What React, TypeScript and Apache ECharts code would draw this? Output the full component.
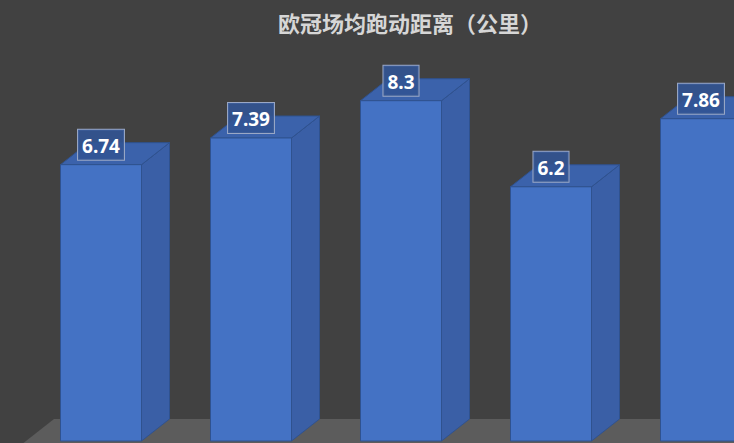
import React, { useEffect, useRef } from 'react';
import * as echarts from 'echarts';

const categories = ['1', '2', '3', '4', '5'];
const distances = [6.74, 7.39, 8.3, 6.2, 7.86];

const DX = 28; // depth offset of the 3D box
const DY = 22;

const App: React.FC = () => {
  const chartRef = useRef<HTMLDivElement>(null);

  useEffect(() => {
    if (!chartRef.current) return;

    const chart = echarts.init(chartRef.current, null, { renderer: 'svg' });

    const renderFloor = (params: any) => {
      const cs = params.coordSys;
      const yB = cs.y + cs.height;
      const extra = 20;
      return {
        type: 'polygon',
        shape: {
          points: [
            [cs.x + DX, yB - DY],
            [cs.x + cs.width + 50, yB - DY],
            [cs.x + cs.width + 50, yB + extra],
            [cs.x - (extra * DX) / DY, yB + extra]
          ]
        },
        style: { fill: '#5c5c5c' }
      };
    };

    const renderBar = (params: any, api: any) => {
      const idx = api.value(0);
      const val = api.value(1);
      const top = api.coord([idx, val]);
      const base = api.coord([idx, 0]);
      const w = api.size([1, 0])[0] * 0.54;
      const x0 = top[0] - w / 2;
      const x1 = top[0] + w / 2;
      const yT = top[1];
      const yB = base[1];
      const edge = { stroke: '#2f528f', lineWidth: 1 };
      return {
        type: 'group',
        children: [
          {
            type: 'polygon',
            shape: { points: [[x1, yB], [x1 + DX, yB - DY], [x1 + DX, yT - DY], [x1, yT]] },
            style: { fill: '#3a5fa6', ...edge }
          },
          {
            type: 'polygon',
            shape: { points: [[x0, yT], [x1, yT], [x1 + DX, yT - DY], [x0 + DX, yT - DY]] },
            style: { fill: '#3b62ab', ...edge }
          },
          {
            type: 'rect',
            shape: { x: x0, y: yT, width: w, height: yB - yT },
            style: { fill: '#4472c4', ...edge }
          },
          {
            type: 'text',
            x: top[0],
            y: yT - 5,
            style: {
              text: String(distances[idx]),
              align: 'center',
              verticalAlign: 'bottom',
              fill: '#ffffff',
              font: 'bold 19px "Noto Sans", sans-serif',
              lineHeight: 22,
              backgroundColor: 'rgba(50, 84, 148, 0.9)',
              borderColor: '#9aa8c6',
              borderWidth: 1,
              padding: [5, 4, 3, 4]
            }
          }
        ]
      };
    };

    const options: echarts.EChartsOption = {
      animation: false,
      backgroundColor: '#414141',
      title: {
        text: '欧冠场均跑动距离（公里）',
        left: 405,
        textAlign: 'center',
        top: 6,
        textStyle: {
          color: '#d6d6d6',
          fontSize: 22,
          fontWeight: 'bold',
          fontFamily: '"Noto Sans CJK SC", sans-serif'
        }
      },
      grid: { left: 26, right: 0, top: 31, bottom: 2 },
      // category slots as index positions; the last one runs past the right edge
      xAxis: { type: 'value', min: -0.5, max: 4.22, show: false, splitLine: { show: false } },
      yAxis: { type: 'value', min: 0, max: 10, show: false, splitLine: { show: false } },
      series: [
        {
          type: 'custom',
          renderItem: renderFloor as any,
          data: [0],
          clip: false,
          z: 1,
          silent: true
        },
        {
          type: 'custom',
          name: '场均跑动距离',
          renderItem: renderBar as any,
          data: categories.map((c, i) => ({ name: c, value: [i, distances[i]] })),
          encode: { x: 0, y: 1 },
          clip: false,
          z: 2
        }
      ]
    };

    chart.setOption(options);

    return () => {
      chart.dispose();
    };
  }, []);

  return (
    <div
      ref={chartRef}
      style={{ position: 'fixed', left: 0, top: 0, width: 734, height: 443 }}
    />
  );
};

export default App;
